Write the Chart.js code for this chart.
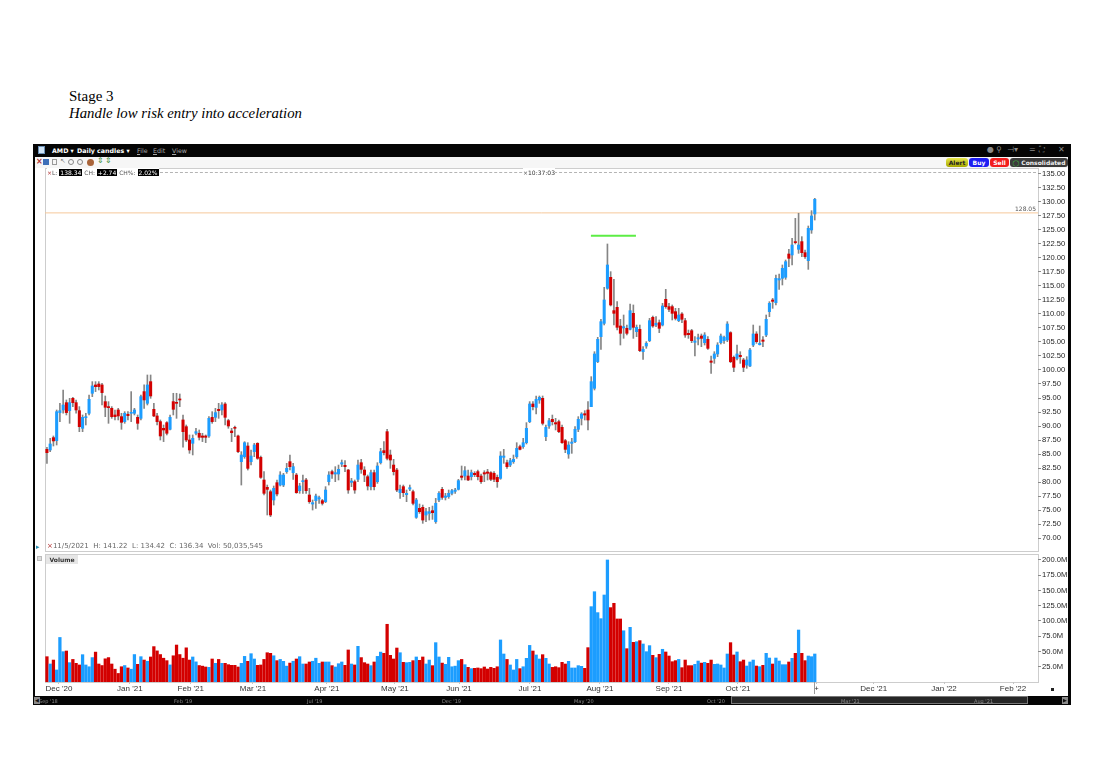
<!DOCTYPE html>
<html lang="en">
<head>
  <meta charset="UTF-8">
  <title>AMD Daily candles - Stage 3</title>
  <script src="https://cdn.jsdelivr.net/npm/chart.js"></script>
  <style>
    * { margin: 0; padding: 0; box-sizing: border-box; }
    body {
      width: 1103px; height: 775px; overflow: hidden; position: relative;
      background: #fff; font-family: 'DejaVu Sans', sans-serif;
    }
    .abs { position: absolute; white-space: nowrap; }
    #t1 { left: 69px; top: 88px; font: 15px 'Liberation Serif', serif; color: #000; }
    #t2 { left: 69px; top: 105px; font: italic 14.8px 'Liberation Serif', serif; color: #000; }
    #win { left: 33px; top: 144px; width: 1038px; height: 561px; background: #050505; }
    #inner { left: 35px; top: 157px; width: 1033px; height: 539px; background: #fff; }
    #tb { left: 35px; top: 157px; width: 1033px; height: 11px; background: #f6f6f6; }
    .bar { color: #fff; font: bold 6.3px 'DejaVu Sans', sans-serif; top: 147px; }
    .menu { color: #a8a8a8; font: 6.3px 'DejaVu Sans', sans-serif; top: 147px; }
    .ico { color: #8a8a8a; font: 8px 'DejaVu Sans', sans-serif; top: 145px; }
    .btn {
      top: 158px; height: 9px; border-radius: 3px; font: bold 6px 'DejaVu Sans', sans-serif;
      line-height: 9px; text-align: center;
    }
    .pan { border: 1px solid #cdcdcd; }
    .lg { top: 168px; font: 6px 'DejaVu Sans', sans-serif; color: #555; line-height: 9px; }
    .inv { background: #000; color: #fff; padding: 0 1px; }
    .sc { top: 698px; font: 5px 'DejaVu Sans', sans-serif; color: #8a8a8a; }
    canvas { position: absolute; }
  </style>
</head>
<body>

<div id="t1" class="abs">Stage 3</div>
<div id="t2" class="abs">Handle low risk entry into acceleration</div>

<div id="win" class="abs"></div>
<div id="inner" class="abs"></div>
<div id="tb" class="abs"></div>

<!-- title bar -->
<div class="abs" style="left:38px;top:146px;width:7px;height:8px;background:#cfe3f5;border:1px solid #6a8fb5;"></div>
<div class="abs bar" style="left:52px;">AMD ▾</div>
<div class="abs bar" style="left:77px;">Daily candles ▾</div>
<div class="abs menu" style="left:137px;"><u>F</u>ile</div>
<div class="abs menu" style="left:153px;"><u>E</u>dit</div>
<div class="abs menu" style="left:172px;"><u>V</u>iew</div>
<div class="abs ico" style="left:987px;">●</div>
<div class="abs ico" style="left:996px;">⚲</div>
<div class="abs ico" style="left:1007px;">⊣▾</div>
<div class="abs ico" style="left:1029px;">=</div>
<div class="abs ico" style="left:1039px;">⛶</div>
<div class="abs ico" style="left:1058px;">✕</div>

<!-- tool row -->
<div class="abs" style="left:36px;top:157px;font:bold 8px 'DejaVu Sans';color:#b03030;">×</div>
<div class="abs" style="left:43px;top:159px;width:6px;height:6px;background:#3d6fb8;"></div>
<div class="abs" style="left:52px;top:159px;width:5px;height:6px;border:1px solid #999;"></div>
<div class="abs" style="left:60px;top:157px;font:7px 'DejaVu Sans';color:#888;">↖</div>
<div class="abs" style="left:68px;top:159px;width:6px;height:6px;border:1px solid #888;border-radius:50%;"></div>
<div class="abs" style="left:77px;top:159px;width:6px;height:6px;border:1px solid #888;border-radius:50%;"></div>
<div class="abs" style="left:87px;top:159px;width:7px;height:7px;background:#a9643a;border-radius:50%;"></div>
<div class="abs" style="left:97px;top:156px;font:8px 'DejaVu Sans';color:#3d8c3d;">⇕</div>
<div class="abs" style="left:105px;top:156px;font:8px 'DejaVu Sans';color:#3d8c3d;">⇕</div>

<div class="abs btn" style="left:946px;width:22px;background:linear-gradient(#e8e84a,#a6a600);color:#222;">Alert</div>
<div class="abs btn" style="left:969px;width:20px;background:#1d1df2;color:#fff;">Buy</div>
<div class="abs btn" style="left:990px;width:19px;background:#f21d1d;color:#fff;">Sell</div>
<div class="abs btn" style="left:1010px;width:58px;background:#3b3b3b;color:#eee;">
  <span style="color:#3fc23f;">◯</span> Consolidated</div>

<!-- panels -->
<div class="abs pan" style="left:45px;top:168px;width:994px;height:384px;"></div>
<div class="abs pan" style="left:45px;top:554px;width:994px;height:129px;"></div>

<canvas id="priceChart" width="1034" height="384" style="left:35px;top:168px;"></canvas>
<canvas id="volChart" width="1034" height="143" style="left:35px;top:553px;"></canvas>

<!-- legend line -->
<div class="abs" style="left:150px;top:172px;width:886px;border-top:1px dashed #b4b4b4;"></div>
<div class="abs lg" style="left:47px;background:#fff;">
  <span style="color:#b03030;">×</span>L: <span class="inv">138.34</span> CH: <span class="inv">+2.74</span> CH%: <span class="inv">2.02%</span>
</div>
<div class="abs lg" style="left:523px;background:#fff;color:#333;"><span style="color:#555;">×</span>10:37:03</div>

<!-- status line -->
<div class="abs" style="left:36px;top:543px;font:7px 'DejaVu Sans';color:#2a8fb0;">▸</div>
<div class="abs" style="left:47px;top:542px;font:7px 'DejaVu Sans';color:#666;">
  <span style="color:#b03030;">×</span>11/5/2021&nbsp; H: 141.22&nbsp; L: 134.42&nbsp; C: 136.34&nbsp; Vol: 50,035,545
</div>

<div class="abs" style="left:37px;top:556px;width:5px;height:5px;background:#ddd;border:1px solid #bbb;"></div>
<div class="abs" style="left:46px;top:555px;width:32px;height:9px;background:#e6e6e6;font:bold 6px 'DejaVu Sans';color:#333;line-height:9px;text-align:center;">Volume</div>
<div class="abs" style="left:1051px;top:688px;width:3px;height:3px;background:#222;"></div>

<!-- scroll bar -->
<div class="abs" style="left:34px;top:697px;width:6px;height:7px;background:#8a8a8a;font:5px 'DejaVu Sans';color:#111;text-align:center;line-height:7px;">◀</div>
<div class="abs" style="left:731px;top:696px;width:297px;height:8px;border:1px solid #777;background:#262626;"></div>
<div class="abs" style="left:1062px;top:697px;width:6px;height:7px;background:#8a8a8a;font:5px 'DejaVu Sans';color:#111;text-align:center;line-height:7px;">▶</div>
<div class="abs sc" style="left:39px;">Sep '18</div>
<div class="abs sc" style="left:174px;">Feb '19</div>
<div class="abs sc" style="left:307px;">Jul '19</div>
<div class="abs sc" style="left:442px;">Dec '19</div>
<div class="abs sc" style="left:574px;">May '20</div>
<div class="abs sc" style="left:707px;">Oct '20</div>
<div class="abs sc" style="left:841px;">Mar '21</div>
<div class="abs sc" style="left:974px;">Aug '21</div>

<script>
// daily candles, one entry per trading day
const candleOpen = [
  85.84, 85.72, 87.92, 87.39, 92.39, 92.86, 94.17, 92.74, 94.94, 94.17,
  92.74, 89.59, 91.49, 92.27, 95.84, 97.33, 97.5, 97.33, 94.35, 93.46,
  93.16, 91.97, 92.86, 91.67, 90.78, 92.09, 92.27, 92.27, 91.55, 91.37,
  96.14, 94.05, 97.92, 92.98, 91.79, 90.78, 89.59, 90.6, 89.41, 94.35,
  94.17, 94.83, 91.08, 89.88, 87.5, 86.91, 88.7, 88.7, 88.22, 88.22,
  88.22, 91.55, 91.55, 92.98, 92.86, 93.93, 90.96, 89.11, 89.76, 88.22,
  83.63, 84.52, 86.43, 83.63, 85.42, 86.9, 84.4, 80.36, 79.05, 78.27,
  76.79, 79.88, 79.46, 79.46, 81.85, 83.63, 81.67, 81.25, 78.45, 80.06,
  80.36, 77.68, 76.07, 76.67, 76.96, 76.67, 76.49, 80.06, 81.85, 81.43,
  81.43, 83.21, 82.98, 82.14, 79.94, 80.06, 80.48, 83.45, 82.14, 80.95,
  79.17, 81.67, 80.06, 83.45, 85.6, 88.99, 84.82, 83.03, 82.14, 78.1,
  79.17, 77.74, 78.75, 78.27, 73.69, 75.3, 75.48, 74.11, 74.4, 74.88,
  72.92, 76.79, 78.69, 77.26, 77.38, 77.98, 78.33, 78.69, 81.07, 81.07,
  81.07, 80.95, 81.55, 81.85, 81.07, 81.67, 81.79, 81.67, 81.55, 80.83,
  80.65, 84.4, 83.45, 83.04, 83.63, 84.52, 86.31, 86.31, 87.02, 90.77,
  93.93, 93.33, 94.64, 94.94, 88.1, 90.0, 91.19, 90.6, 90.77, 89.76,
  87.38, 85.0, 86.9, 87.2, 89.41, 91.37, 92.2, 92.86, 93.45, 96.73,
  101.49, 105.95, 108.33, 114.58, 116.55, 110.6, 111.19, 107.86, 107.5, 107.44,
  107.26, 110.12, 106.84, 107.26, 103.27, 104.28, 105.24, 109.4, 108.03, 108.45,
  108.03, 112.62, 111.31, 111.31, 110.42, 108.81, 110.0, 108.81, 106.55, 107.02,
  104.94, 105.54, 106.07, 104.88, 105.48, 101.61, 102.08, 102.86, 104.88, 105.24,
  105.36, 106.67, 102.26, 102.08, 102.62, 101.79, 100.89, 100.71, 104.46, 106.43,
  104.52, 105.36, 106.25, 110.42, 112.5, 112.02, 116.07, 116.37, 116.55, 120.71,
  120.54, 122.92, 121.55, 122.92, 120.95, 119.52, 125.0, 127.86
];
const candleHigh = [
  86.2, 87.8, 88.22, 92.86, 94.05, 96.43, 94.65, 94.94, 95.12, 94.65,
  93.46, 91.97, 92.27, 95.54, 97.92, 97.92, 97.92, 97.62, 95.36, 94.35,
  93.46, 92.86, 93.16, 92.27, 92.56, 92.56, 96.14, 93.16, 91.97, 95.54,
  97.33, 99.11, 99.11, 94.05, 92.27, 91.08, 90.18, 90.78, 91.97, 95.84,
  95.84, 95.72, 91.97, 90.18, 88.4, 88.4, 89.59, 89.29, 88.7, 88.4,
  91.67, 92.56, 93.16, 94.05, 94.17, 94.17, 91.2, 89.59, 90.0, 88.4,
  85.42, 87.2, 87.02, 85.71, 86.9, 87.02, 84.64, 81.85, 79.46, 78.57,
  79.29, 80.36, 81.85, 81.55, 83.33, 84.82, 83.33, 81.55, 79.76, 81.25,
  80.65, 78.87, 76.79, 77.86, 77.5, 76.9, 79.17, 81.85, 82.14, 82.74,
  83.03, 83.93, 83.81, 82.26, 80.65, 80.36, 83.93, 84.05, 82.74, 81.25,
  82.14, 82.14, 83.45, 86.01, 87.2, 89.4, 85.71, 84.05, 82.44, 79.46,
  79.46, 78.57, 79.46, 78.57, 77.08, 76.07, 75.89, 75.3, 75.48, 75.71,
  77.08, 78.27, 79.05, 77.98, 78.57, 78.69, 78.87, 80.48, 82.86, 82.74,
  82.14, 82.14, 81.85, 82.14, 81.43, 82.02, 82.26, 81.85, 81.85, 81.25,
  85.42, 85.83, 83.93, 84.23, 84.82, 87.02, 86.61, 87.8, 90.6, 94.35,
  94.35, 95.36, 95.36, 95.36, 90.18, 91.37, 91.96, 91.37, 91.07, 90.18,
  87.62, 87.2, 87.8, 89.88, 91.67, 92.38, 92.74, 94.35, 98.81, 103.27,
  105.83, 109.05, 114.76, 122.5, 117.56, 116.19, 112.2, 109.05, 109.82, 108.04,
  111.79, 111.61, 108.03, 108.03, 104.17, 105.06, 109.22, 109.64, 109.52, 108.93,
  111.9, 114.4, 111.9, 111.61, 111.01, 111.01, 110.24, 109.22, 107.14, 107.26,
  105.95, 106.43, 106.43, 106.67, 105.95, 102.5, 103.27, 104.88, 106.43, 106.07,
  108.63, 106.84, 102.5, 104.46, 103.27, 102.08, 102.38, 103.87, 108.03, 106.84,
  107.86, 105.95, 109.82, 112.2, 112.79, 116.96, 117.14, 118.75, 119.64, 121.55,
  123.51, 127.08, 127.98, 123.81, 121.43, 125.71, 128.45, 130.65
];
const candleLow = [
  83.34, 85.42, 86.43, 86.61, 90.78, 92.27, 91.97, 90.48, 93.46, 92.27,
  88.99, 88.99, 90.18, 91.97, 95.24, 96.14, 96.43, 93.75, 91.67, 90.48,
  91.37, 91.08, 91.08, 89.41, 90.48, 91.08, 90.78, 91.97, 89.41, 91.08,
  93.16, 93.75, 94.94, 91.67, 90.18, 87.5, 87.21, 88.4, 89.29, 91.97,
  91.37, 93.46, 86.2, 87.21, 85.12, 84.83, 88.4, 87.5, 87.21, 87.03,
  87.98, 90.48, 90.78, 91.37, 91.97, 90.18, 89.59, 87.21, 88.1, 85.24,
  79.46, 84.23, 82.14, 83.03, 84.52, 84.05, 80.65, 77.68, 74.11, 73.81,
  75.89, 77.5, 79.29, 79.17, 81.55, 82.14, 80.48, 77.98, 77.98, 77.98,
  77.98, 76.19, 75.0, 75.3, 76.19, 75.89, 76.31, 79.46, 80.65, 80.06,
  80.36, 82.74, 81.85, 77.98, 79.17, 77.98, 80.06, 81.55, 80.06, 78.57,
  78.57, 78.57, 79.76, 83.21, 84.82, 83.93, 82.44, 81.25, 78.27, 77.08,
  77.38, 76.49, 78.45, 75.89, 73.51, 74.4, 72.62, 72.92, 73.21, 73.33,
  72.62, 76.49, 76.9, 76.79, 77.08, 77.68, 77.98, 78.57, 80.36, 80.36,
  80.24, 80.36, 80.95, 80.36, 79.76, 80.06, 80.36, 80.24, 80.06, 79.05,
  80.48, 83.33, 82.44, 82.74, 83.33, 84.23, 85.71, 86.01, 86.79, 90.6,
  92.86, 92.14, 94.05, 90.18, 87.38, 89.58, 90.18, 89.29, 88.81, 86.91,
  85.24, 84.23, 85.12, 87.02, 88.99, 90.18, 91.07, 89.29, 93.45, 96.43,
  101.31, 103.69, 108.04, 114.41, 111.43, 108.04, 107.14, 104.46, 105.66, 106.25,
  107.14, 105.65, 105.95, 103.27, 101.9, 103.87, 105.06, 107.62, 107.74, 106.67,
  107.86, 111.01, 110.42, 108.93, 108.93, 108.63, 108.45, 105.83, 105.65, 104.88,
  102.5, 104.46, 104.17, 104.46, 103.69, 99.4, 101.19, 102.38, 104.64, 104.76,
  105.06, 101.31, 99.7, 101.79, 101.19, 99.7, 100.3, 100.59, 104.17, 104.76,
  104.46, 104.17, 105.95, 109.52, 111.01, 111.61, 114.4, 115.18, 116.19, 118.45,
  118.75, 122.5, 120.83, 120.24, 119.94, 117.97, 124.4, 126.78
];
const candleClose = [
  85.24, 86.79, 87.33, 92.56, 92.74, 93.75, 92.39, 94.17, 94.17, 92.86,
  89.88, 91.55, 91.67, 94.77, 97.15, 97.03, 97.03, 95.96, 93.34, 93.28,
  91.67, 91.67, 91.79, 90.66, 92.27, 91.85, 92.39, 92.86, 90.48, 95.24,
  94.65, 97.33, 95.36, 91.79, 90.78, 88.22, 89.29, 88.7, 91.55, 92.98,
  94.05, 94.65, 88.99, 87.5, 85.72, 87.8, 88.99, 87.98, 87.98, 87.98,
  91.37, 90.78, 92.39, 92.74, 93.75, 91.55, 90.0, 88.81, 89.59, 85.42,
  84.82, 87.02, 82.44, 84.64, 86.61, 84.23, 80.83, 77.98, 78.69, 74.11,
  78.87, 77.86, 81.25, 81.25, 82.44, 82.74, 82.74, 78.1, 79.29, 80.24,
  78.45, 76.49, 76.31, 77.5, 77.2, 76.19, 78.57, 81.25, 81.43, 81.67,
  82.26, 83.45, 82.74, 78.57, 80.18, 78.57, 83.03, 82.26, 81.25, 79.29,
  81.67, 79.17, 82.86, 85.42, 85.24, 84.23, 83.93, 81.85, 78.57, 78.69,
  78.1, 77.98, 78.99, 76.19, 76.79, 74.7, 73.21, 74.7, 74.7, 74.52,
  76.19, 77.98, 77.26, 77.5, 77.98, 78.45, 78.57, 80.24, 80.83, 82.02,
  80.36, 81.67, 81.31, 80.95, 80.06, 81.43, 81.55, 80.48, 80.48, 80.06,
  84.64, 84.64, 82.74, 83.81, 84.05, 86.01, 85.83, 87.02, 89.58, 93.93,
  93.45, 94.76, 95.12, 90.48, 89.76, 90.95, 90.77, 90.36, 88.99, 87.02,
  85.83, 86.61, 87.14, 89.41, 91.19, 92.14, 91.96, 91.07, 97.92, 102.86,
  105.48, 108.63, 112.5, 118.75, 111.61, 110.12, 107.62, 106.55, 107.74, 106.55,
  110.59, 107.62, 107.62, 103.45, 103.69, 104.76, 108.81, 107.86, 108.33, 107.44,
  111.43, 111.31, 110.83, 110.12, 109.22, 109.82, 109.05, 106.25, 106.31, 105.24,
  105.18, 105.77, 105.65, 106.25, 103.87, 101.37, 102.86, 104.46, 106.07, 105.83,
  108.21, 101.49, 100.48, 102.86, 102.38, 100.48, 101.79, 103.57, 106.43, 105.06,
  104.76, 105.12, 109.05, 111.9, 112.26, 116.37, 116.31, 118.15, 119.34, 119.94,
  122.32, 122.74, 122.32, 120.95, 120.24, 125.3, 127.5, 130.48
];
// volume in millions of shares
const volume = [
  41.5, 29.5, 36, 19.7, 73, 49.7, 50.8, 31.7, 37, 30.6,
  27.9, 44.8, 27.9, 25, 40, 49, 29.5, 27, 38, 40,
  29.5, 21, 14, 25, 27, 23, 21, 45, 29, 41.5,
  36, 34, 41, 58, 51, 45, 39, 35, 28, 43,
  60.6, 45, 39, 56, 36, 41, 33, 27, 26, 24.6,
  24, 37.7, 30.6, 37, 30.6, 30.6, 28.4, 27.3, 27.3, 24.6,
  30.6, 42, 33.9, 46.4, 37.7, 27.3, 27.9, 37, 48, 47,
  43, 35, 37, 33.9, 26, 31, 34, 37.7, 41.5, 29.5,
  29.5, 32.8, 34, 39, 30.6, 32.8, 32.8, 32.8, 26.8, 24.6,
  30, 32.8, 27.3, 52.5, 29.5, 27.9, 58.5, 40, 31.7, 29.5,
  26.8, 32.8, 42, 49, 47, 94.6, 43.7, 37.7, 55.7, 48,
  32.2, 31.7, 32.2, 35, 41, 35.5, 41, 29.5, 36,
  26.8, 64.5, 41, 31, 29, 40.4, 25, 26, 35, 37,
  28.4, 24, 21.9, 22.4, 23, 21.9, 24.6, 21.3, 24, 22.4,
  25, 68.9, 45.9, 37, 27.9, 19.7, 37, 21.9, 25, 38.8,
  60, 50.8, 44.3, 37.7, 44.8, 38.8, 29.5, 24, 25, 23.5,
  32.2, 29.5, 33.9, 23, 23, 26.8, 25.7, 22.4, 56.3, 123.5,
  148, 113.7, 103.8, 142.6, 200, 121.9, 129, 103.3, 103.3, 84,
  54.6, 89.6, 65, 66, 67.8, 62.3, 49.7, 59.6, 43.7, 39.9,
  45.4, 53.6, 49.2, 42.6, 33.3, 35, 37, 23.5, 36, 26.8,
  26.8, 29, 34.4, 31, 32.2, 30.6, 36, 29,
  29.5, 27.9, 23, 45.9, 64.5, 44.3, 49.2, 33.3, 36, 26.2,
  32.8, 36, 26.2, 25.1, 27.3, 47, 39.3, 29.5, 39.3, 34.4,
  28.4, 28.4, 32.8, 38.8, 47, 85.2, 47, 35, 42.6, 41.5,
  45.9
];

const priceTicks = [70, 72.5, 75, 77.5, 80, 82.5, 85, 87.5, 90, 92.5, 95, 97.5, 100,
  102.5, 105, 107.5, 110, 112.5, 115, 117.5, 120, 122.5, 125, 127.5, 130, 132.5, 135];
const volumeTicks = [25, 50, 75, 100, 125, 150, 175, 200];
const monthLabels = ["Dec '20", "Jan '21", "Feb '21", "Mar '21", "Apr '21", "May '21", "Jun '21",
  "Jul '21", "Aug '21", "Sep '21", "Oct '21", "+", "Dec '21", "Jan '22", "Feb '22"];
// bar index under each month label (future months continue past the last candle)
const monthAt = [3.7, 25.6, 44.4, 63.6, 86.4, 107.4, 127.2, 149.1, 170.7, 192, 213.3, 237.5, 255.2, 276.9, 298.2];

const resistanceLevel = 128.05;
const handleLevel = 123.98;
const handleFrom = 167.9;
const handleTo = 181.8;

const X_MIN = -0.6, X_MAX = 305.9;
const BLUE = '#1c9dff', RED = '#d30000', WICK = '#858585';

const isUp = candleClose.map((c, i) => c >= candleOpen[i]);
const bodyColors = isUp.map(u => u ? BLUE : RED);

// keep the plot box fixed: no extra room for the end labels
function noLabelPadding(axis) {
  axis.paddingTop = 0;
  axis.paddingBottom = 0;
  axis.paddingLeft = 0;
  axis.paddingRight = 0;
}

const priceNotes = {
  id: 'priceNotes',
  afterDatasetsDraw(chart) {
    const { ctx, chartArea, scales } = chart;
    const y = scales.y.getPixelForValue(resistanceLevel);
    ctx.save();
    ctx.font = '6px "DejaVu Sans"';
    ctx.fillStyle = '#555';
    ctx.textAlign = 'right';
    ctx.fillText(resistanceLevel.toFixed(2), chartArea.right - 2, y - 2);
    ctx.restore();
  }
};

const lastBarMark = {
  id: 'lastBarMark',
  afterDraw(chart) {
    const { ctx, chartArea, scales } = chart;
    const x = Math.round(scales.x.getPixelForValue(candleClose.length - 1)) - 0.5;
    ctx.save();
    ctx.strokeStyle = '#999';
    ctx.beginPath();
    ctx.moveTo(x, chartArea.bottom);
    ctx.lineTo(x, chartArea.bottom + 12);
    ctx.stroke();
    ctx.restore();
  }
};

const tickFont = { family: 'Liberation Sans', size: 7.6 };
const dateFont = { family: 'Liberation Sans', size: 8 };

new Chart(document.getElementById('priceChart'), {
  type: 'bar',
  data: {
    datasets: [
      {
        label: 'wick',
        data: candleHigh.map((h, i) => ({ x: i, y: [candleLow[i], h] })),
        backgroundColor: WICK,
        barThickness: 1,
        grouped: false,
        order: 2
      },
      {
        label: 'body',
        data: candleOpen.map((o, i) => ({ x: i, y: [o, candleClose[i]] })),
        backgroundColor: bodyColors,
        barThickness: 2.4,
        minBarLength: 1,
        grouped: false,
        order: 1
      },
      {
        type: 'line',
        label: 'resistance',
        data: [{ x: X_MIN, y: resistanceLevel }, { x: X_MAX, y: resistanceLevel }],
        borderColor: '#f6c89a',
        borderWidth: 1,
        pointRadius: 0,
        order: 3
      },
      {
        type: 'line',
        label: 'handle',
        data: [{ x: handleFrom, y: handleLevel }, { x: handleTo, y: handleLevel }],
        borderColor: '#5ced45',
        borderWidth: 2,
        pointRadius: 0,
        order: 0
      }
    ]
  },
  options: {
    responsive: false,
    animation: false,
    layout: { padding: { left: 10, top: 2, bottom: 2, right: 0 } },
    plugins: { legend: { display: false }, tooltip: { enabled: false } },
    scales: {
      x: { type: 'linear', offset: false, min: X_MIN, max: X_MAX, display: false },
      y: {
        position: 'right',
        min: 67.86,
        max: 135.71,
        afterFit(axis) { axis.width = 31; noLabelPadding(axis); },
        afterBuildTicks(axis) { axis.ticks = priceTicks.map(v => ({ value: v })); },
        grid: { drawOnChartArea: false, tickLength: 3, color: '#8a8a8a' },
        border: { display: false },
        ticks: { font: tickFont, color: '#222', padding: 1, callback: v => v.toFixed(2) }
      }
    }
  },
  plugins: [priceNotes]
});

new Chart(document.getElementById('volChart'), {
  type: 'bar',
  data: {
    datasets: [{
      label: 'Volume',
      data: volume.map((v, i) => ({ x: i, y: v })),
      backgroundColor: bodyColors,
      barThickness: 2.6
    }]
  },
  options: {
    responsive: false,
    animation: false,
    layout: { padding: { left: 10, top: 1, bottom: 0, right: 0 } },
    plugins: { legend: { display: false }, tooltip: { enabled: false } },
    scales: {
      x: {
        type: 'linear',
        offset: false,
        min: X_MIN,
        max: X_MAX,
        afterFit(axis) { axis.height = 14; noLabelPadding(axis); },
        afterBuildTicks(axis) { axis.ticks = monthAt.map(v => ({ value: v })); },
        grid: { drawOnChartArea: false, offset: false, tickLength: 2, color: '#c4c4c4' },
        border: { display: false },
        ticks: {
          autoSkip: false, maxRotation: 0, padding: 0, font: dateFont, color: '#333',
          callback: (v, i) => monthLabels[i]
        }
      },
      y: {
        position: 'right',
        min: 0,
        max: 209.8,
        afterFit(axis) { axis.width = 31; noLabelPadding(axis); },
        afterBuildTicks(axis) { axis.ticks = volumeTicks.map(v => ({ value: v })); },
        grid: { drawOnChartArea: false, tickLength: 3, color: '#8a8a8a' },
        border: { display: false },
        ticks: { font: tickFont, color: '#222', padding: 1, callback: v => v.toFixed(1) + 'M' }
      }
    }
  },
  plugins: [lastBarMark]
});
</script>

</body>
</html>
